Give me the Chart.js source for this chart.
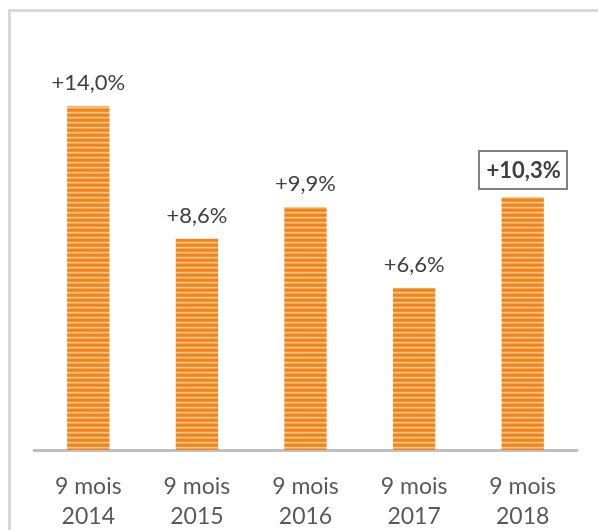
<!DOCTYPE html>
<html>
<head>
<meta charset="utf-8">
<script src="https://cdn.jsdelivr.net/npm/chart.js@4.4.1/dist/chart.umd.min.js"></script>
<style>
  html, body { margin: 0; padding: 0; background: #fff; }
  #wrap { position: relative; width: 598px; height: 530px; overflow: hidden; }
  #frame { position: absolute; left: 8px; top: 9px; width: 700px; height: 700px;
           border-left: 3px solid #d9d9d9; border-top: 3px solid #d9d9d9; }
  #c { position: absolute; left: 0; top: 0; }
</style>
</head>
<body>
<div id="wrap">
  <div id="frame"></div>
  <canvas id="c" width="598" height="530"></canvas>
</div>
<script>
const periods = ['9 mois', '9 mois', '9 mois', '9 mois', '9 mois'];
const years = ['2014', '2015', '2016', '2017', '2018'];
const growth = [14.0, 8.6, 9.9, 6.6, 10.3];
const highlightIndex = 4;

const FONT = 'Lato';

const fmt = v => '+' + v.toFixed(1).replace('.', ',') + '%';

// striped orange fill like the original
function stripePattern() {
  const p = document.createElement('canvas');
  p.width = 4; p.height = 5;
  const pc = p.getContext('2d');
  const rows = ['#f2851a', '#f49233', '#fbc88f', '#f6a452', '#f2851a'];
  rows.forEach((col, i) => { pc.fillStyle = col; pc.fillRect(0, i, 4, 1); });
  return document.getElementById('c').getContext('2d').createPattern(p, 'repeat');
}

const valueLabels = {
  id: 'valueLabels',
  afterDatasetsDraw(chart) {
    const ctx = chart.ctx;
    const meta = chart.getDatasetMeta(0);
    meta.data.forEach((bar, i) => {
      const txt = fmt(growth[i]);
      ctx.save();
      ctx.textAlign = 'center';
      ctx.textBaseline = 'middle';
      ctx.fillStyle = '#404040';
      if (i === highlightIndex) {
        const y = bar.y - 27;
        ctx.font = 'bold 22px ' + FONT;
        ctx.strokeStyle = '#808080';
        ctx.lineWidth = 2;
        ctx.strokeRect(Math.round(bar.x) - 44, Math.round(y) - 19, 88, 38);
        ctx.fillText(txt, bar.x + 1, y + 1);
      } else {
        ctx.font = '22px ' + FONT;
        ctx.fillText(txt, bar.x, bar.y - 23);
      }
      ctx.restore();
    });
  }
};

new Chart(document.getElementById('c'), {
  type: 'bar',
  data: {
    labels: periods.map((p, i) => [p, years[i]]),
    datasets: [{
      data: growth,
      backgroundColor: stripePattern(),
      borderWidth: 0,
      categoryPercentage: 1,
      barPercentage: 0.39
    }]
  },
  options: {
    responsive: false,
    animation: false,
    devicePixelRatio: 1,
    layout: { padding: { left: 34, right: 21, top: 8, bottom: 0 } },
    plugins: { legend: { display: false }, tooltip: { enabled: false } },
    scales: {
      y: { display: false, min: 0, max: 18 },
      x: {
        grid: { display: false, drawTicks: false },
        border: { color: '#bfbfbf', width: 3 },
        ticks: {
          color: '#595959',
          padding: 22,
          font: { family: FONT, size: 23, lineHeight: 1.3 }
        },
        afterFit(scale) { scale.height = 80; }
      }
    }
  },
  plugins: [valueLabels]
});
</script>
</body>
</html>
